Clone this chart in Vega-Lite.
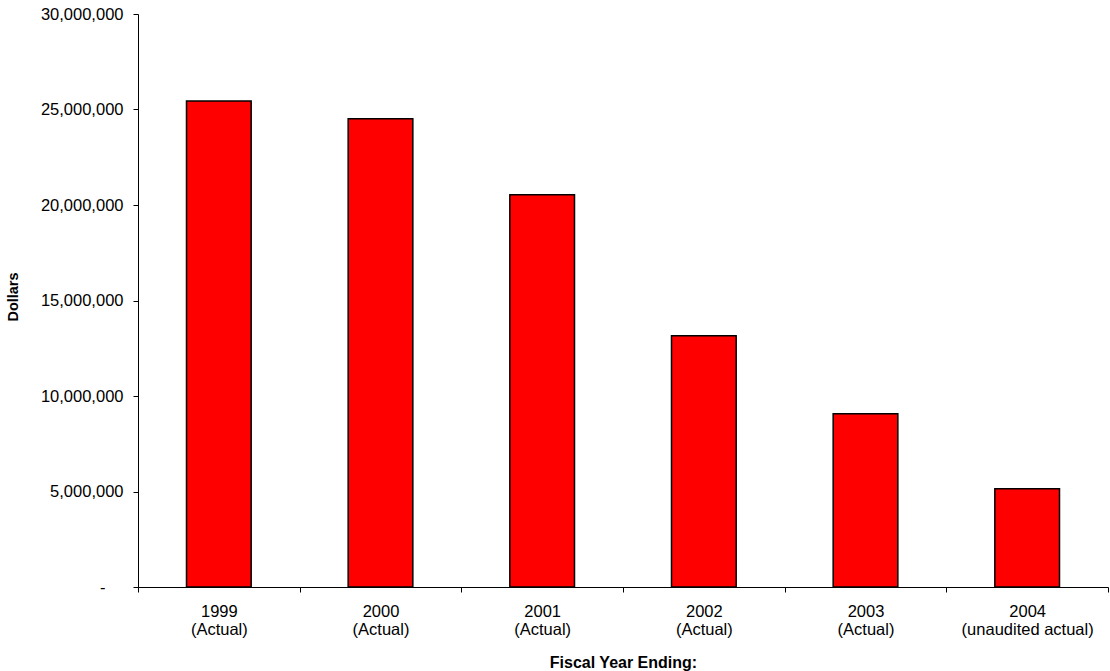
{
  "$schema": "https://vega.github.io/schema/vega-lite/v6.json",
  "width": 970,
  "height": 573,
  "autosize": {"type": "none"},
  "padding": {"left": 138, "top": 14, "right": 2, "bottom": 84},
  "background": "white",
  "config": {
    "view": {"stroke": null},
    "font": "Liberation Sans",
    "axis": {"labelFont": "Liberation Sans", "titleFont": "Liberation Sans", "labelColor": "black", "titleColor": "black", "domainColor": "black", "tickColor": "black", "grid": false}
  },
  "data": {
    "values": [
      {"year": "1999|(Actual)", "dollars": 25450000},
      {"year": "2000|(Actual)", "dollars": 24520000},
      {"year": "2001|(Actual)", "dollars": 20540000},
      {"year": "2002|(Actual)", "dollars": 13160000},
      {"year": "2003|(Actual)", "dollars": 9070000},
      {"year": "2004|(unaudited actual)", "dollars": 5150000}
    ]
  },
  "mark": {"type": "bar", "color": "#ff0000", "stroke": "black", "strokeWidth": 1.5, "width": {"band": 0.4}},
  "encoding": {
    "x": {
      "field": "year",
      "type": "nominal",
      "sort": null,
      "scale": {"paddingInner": 0, "paddingOuter": 0},
      "axis": {
        "title": "Fiscal Year Ending:",
        "titleFontSize": 16,
        "titleFontWeight": "bold",
        "titleBaseline": "alphabetic",
        "titleY": 80,
        "labelAngle": 0,
        "labelFontSize": 16.5,
        "labelPadding": 11,
        "labelLineHeight": 18,
        "labelExpr": "split(datum.label, '|')",
        "tickBand": "extent",
        "tickSize": 5,
        "domainWidth": 1,
        "tickWidth": 1
      }
    },
    "y": {
      "field": "dollars",
      "type": "quantitative",
      "scale": {"domain": [0, 30000000]},
      "axis": {
        "title": "Dollars",
        "titleFontSize": 14.5,
        "titleFontWeight": "bold",
        "titleBaseline": "alphabetic",
        "titleAlign": "center",
        "titleAngle": -90,
        "titleX": -121,
        "titleY": 282.5,
        "values": [0, 5000000, 10000000, 15000000, 20000000, 25000000, 30000000],
        "labelExpr": "datum.value == 0 ? '-' : format(datum.value, ',')",
        "labelFontSize": 16.5,
        "labelPadding": {"condition": {"test": "datum.value == 0", "value": 28}, "value": 10},
        "tickSize": 5,
        "domainWidth": 1,
        "tickWidth": 1
      }
    }
  }
}
